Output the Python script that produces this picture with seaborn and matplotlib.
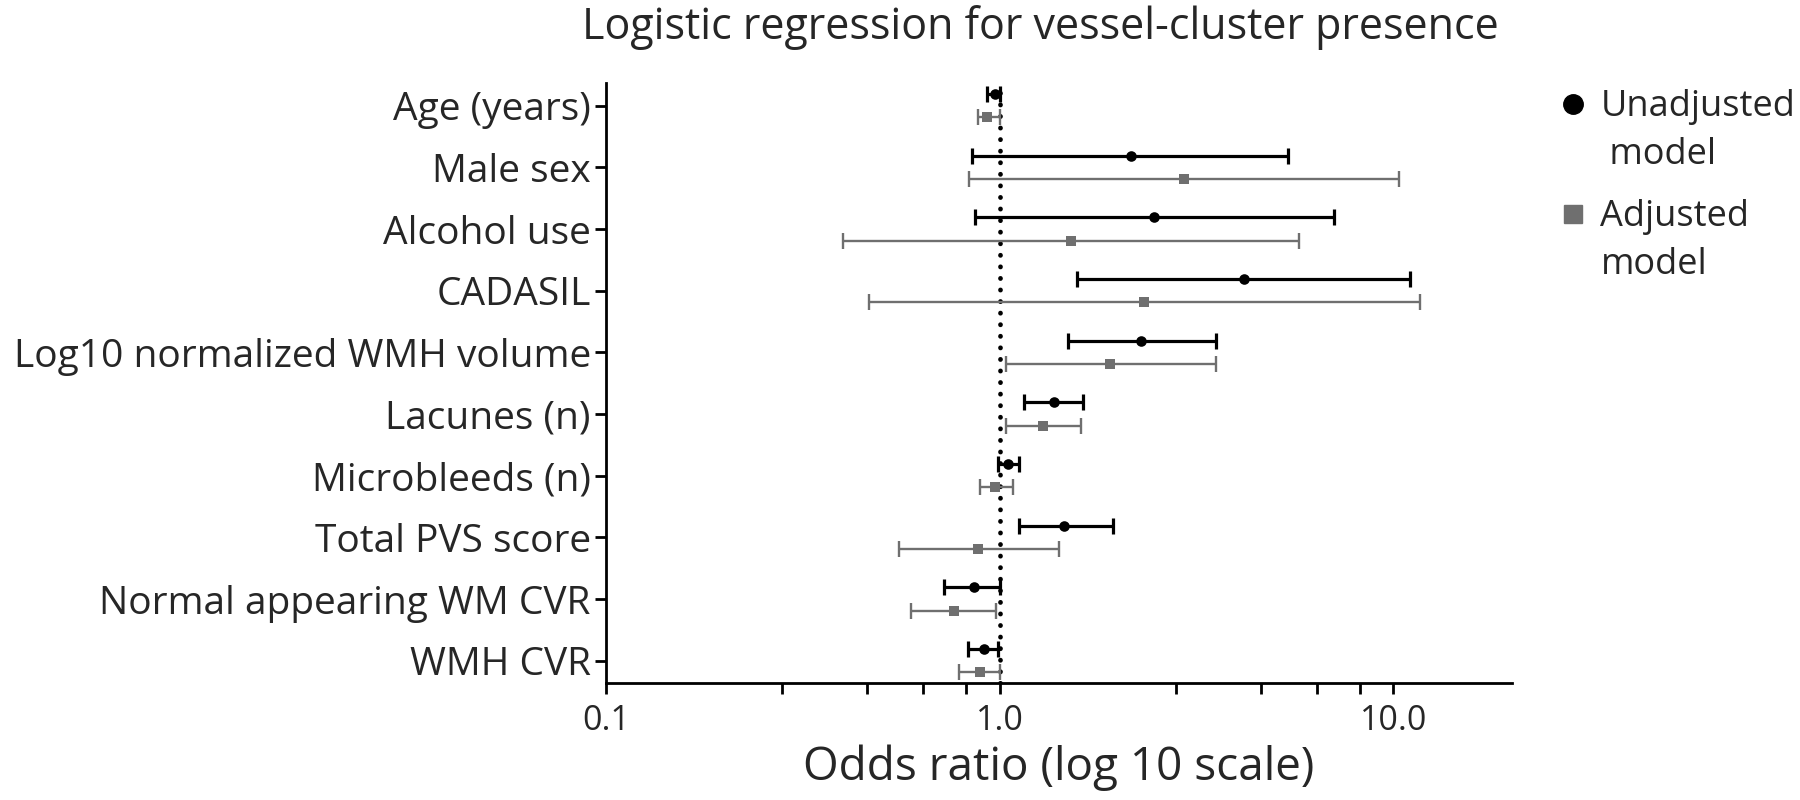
import matplotlib
matplotlib.use("Agg")
import matplotlib.pyplot as plt
import seaborn as sns
import pandas as pd
from matplotlib.lines import Line2D
from matplotlib.ticker import NullFormatter

# 数据：比值比与95%置信区间
variables = ['Age (years)', 'Male sex', 'Alcohol use', 'CADASIL',
             'Log10 normalized WMH volume', 'Lacunes (n)', 'Microbleeds (n)',
             'Total PVS score', 'Normal appearing WM CVR', 'WMH CVR']

unadj_or = [0.97, 2.15, 2.47, 4.18, 2.29, 1.37, 1.05, 1.46, 0.86, 0.91]
unadj_lo = [0.93, 0.85, 0.865, 1.57, 1.49, 1.15, 0.99, 1.12, 0.72, 0.83]
unadj_hi = [1.00, 5.40, 7.05, 11.0, 3.55, 1.63, 1.12, 1.94, 1.00, 0.99]

adj_or = [0.93, 2.93, 1.52, 2.33, 1.91, 1.29, 0.97, 0.88, 0.765, 0.89]
adj_lo = [0.88, 0.835, 0.40, 0.466, 1.04, 1.04, 0.89, 0.556, 0.595, 0.79]
adj_hi = [1.00, 10.3, 5.77, 11.7, 3.55, 1.61, 1.08, 1.41, 0.98, 1.00]

model_first = ['Unadjusted', 'Adjusted']
model_second = [' model', 'model']
colors = ['#000000', '#6f6f6f']

# 整理成长表
rows = []
for i, v in enumerate(variables):
    rows.append(dict(var=v, model=model_first[0], pos=i - 0.19,
                     OR=unadj_or[i], lo=unadj_lo[i], hi=unadj_hi[i]))
    rows.append(dict(var=v, model=model_first[1], pos=i + 0.19,
                     OR=adj_or[i], lo=adj_lo[i], hi=adj_hi[i]))
df = pd.DataFrame(rows)

sns.set_theme(style="ticks")
plt.rcParams['font.family'] = ['Open Sans', 'DejaVu Sans']

fig = plt.figure(figsize=(18, 8), dpi=100)
ax = fig.add_axes([0.3367, 0.146, 0.5033, 0.75])

# 误差线 + 点
for m, c, lw, mk, sz in zip(model_first, colors, [2.3, 1.7], ['o', 's'], [58, 42]):
    sub = df[df['model'] == m]
    ax.errorbar(sub['OR'], sub['pos'],
                xerr=[sub['OR'] - sub['lo'], sub['hi'] - sub['OR']],
                fmt='none', ecolor=c, elinewidth=lw, capsize=5.5, capthick=lw,
                zorder=2)
    sns.scatterplot(data=sub, x='OR', y='pos', color=c, marker=mk, s=sz,
                    linewidth=0, ax=ax, legend=False, zorder=3)

ax.axvline(1.0, color='black', ls=(0, (0.05, 2.4)), lw=3.4,
           dash_capstyle='round', zorder=1)

ax.set_xscale('log')
ax.set_xlim(0.1, 20)
ax.set_ylim(len(variables) - 1 + 0.365, -0.365)

ax.set_xticks([0.1, 1, 10])
ax.set_xticklabels(['0.1', '1.0', '10.0'])
ax.set_xticks([0.28, 0.46, 0.64, 0.82, 2.8, 4.6, 6.4, 8.2], minor=True)
ax.xaxis.set_minor_formatter(NullFormatter())
ax.set_yticks(range(len(variables)))
ax.set_yticklabels(variables)

ax.tick_params(axis='both', which='both', length=8, width=2, color='black')
ax.tick_params(axis='y', labelsize=28, pad=3)
ax.tick_params(axis='x', labelsize=24.5, pad=7)
for s in ['left', 'bottom']:
    ax.spines[s].set_linewidth(2)
    ax.spines[s].set_color('black')
sns.despine(ax=ax)

ax.set_xlabel('Odds ratio (log 10 scale)', fontsize=33, labelpad=5)
ax.set_ylabel('')

fig.text(0.578, 0.965, 'Logistic regression for vessel-cluster presence',
         ha='center', va='center', fontsize=31)

# 图例：标记与第一行文字对齐
handles = [Line2D([], [], marker='o', color=colors[0], ls='none', markersize=14),
           Line2D([], [], marker='s', color=colors[1], ls='none', markersize=13)]
leg = fig.legend(handles, model_first, loc='upper left',
                 bbox_to_anchor=(0.848, 0.929), frameon=False, fontsize=26,
                 handletextpad=0.35, labelspacing=2.05, handlelength=0.8)
fig.canvas.draw()
renderer = fig.canvas.get_renderer()
W, H = fig.bbox.width, fig.bbox.height
for t, second in zip(leg.get_texts(), model_second):
    bb = t.get_window_extent(renderer)
    fig.text(bb.x0 / W, bb.y0 / H - 0.06, second, fontsize=26,
             ha='left', va='bottom')

fig.savefig('out.png', dpi=100)
